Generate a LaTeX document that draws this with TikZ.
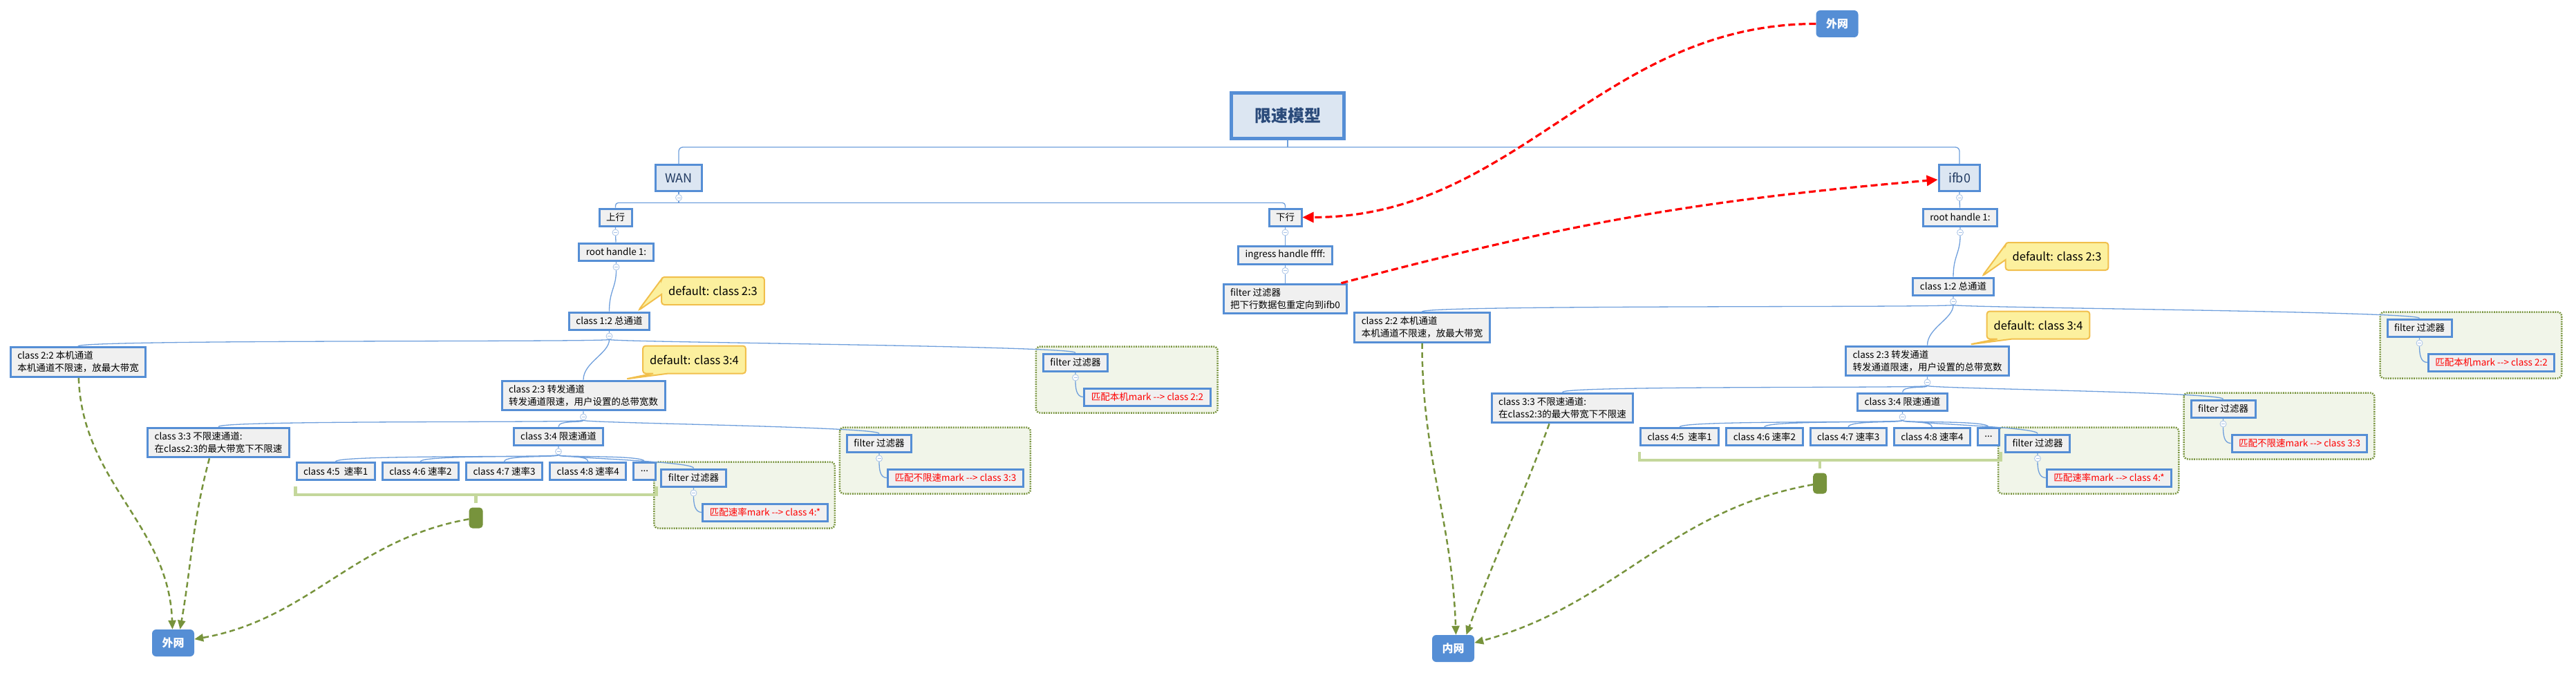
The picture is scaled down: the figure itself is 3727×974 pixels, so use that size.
\documentclass[tikz,border=0pt]{standalone}
\usepackage{fontspec}
\setmainfont{Noto Sans CJK SC}
\usetikzlibrary{arrows.meta, positioning, calc, shapes.callouts, backgrounds}

\definecolor{mapblue}{HTML}{558ED5}
\definecolor{linkblue}{HTML}{6F9FDC}
\definecolor{foldblue}{HTML}{A9C3E6}
\definecolor{boxgray}{HTML}{F0F0F0}
\definecolor{headfill}{HTML}{DCE6F2}
\definecolor{headtext}{HTML}{2A4A7A}
\definecolor{notefill}{HTML}{FCF09E}
\definecolor{notedraw}{HTML}{F1BF4C}
\definecolor{olive}{HTML}{77933C}
\definecolor{groupfill}{HTML}{F1F5E9}
\definecolor{sumgreen}{HTML}{C4D79B}

\tikzset{
  topic/.style={draw=mapblue, line width=3pt, fill=boxgray, align=left, inner xsep=10pt, inner ysep=6pt, minimum height=25pt, font=\fontsize{13.5}{18}\selectfont},
  hit/.style={topic, text=red},
  headbox/.style={draw=mapblue, line width=3pt, fill=headfill, text=headtext!80!black, inner xsep=14pt, minimum height=38pt, font=\fontsize{18}{20}\selectfont},
  modelbox/.style={draw=mapblue, line width=5pt, fill=headfill, text=headtext, minimum width=163pt, minimum height=66pt, font=\fontsize{24}{28}\selectfont\bfseries},
  netbox/.style={fill=mapblue, text=white, rounded corners=6pt, minimum width=61pt, minimum height=39pt, font=\fontsize{16}{18}\selectfont\bfseries},
  note/.style={rectangle callout, draw=notedraw, fill=notefill, line width=2pt, rounded corners=4pt, callout pointer width=22pt, minimum height=40pt, inner xsep=10pt, font=\fontsize{16.5}{19}\selectfont},
  fold/.style={circle, draw=foldblue, fill=white, line width=0.8pt, minimum size=9pt, inner sep=0pt,
    path picture={\draw[foldblue, line width=0.8pt] ([xshift=-2.5pt]path picture bounding box.center) -- ([xshift=2.5pt]path picture bounding box.center);}},
  link/.style={draw=linkblue, line width=1.3pt},
  fan/.style={out=-90, in=90, out distance=4pt, in distance=10pt},
  filterbox/.style={draw=olive, fill=groupfill, line width=2.5pt, dash pattern=on 1.8pt off 1.6pt, rounded corners=6pt},
  sumline/.style={draw=sumgreen, line width=4.5pt},
  sumpill/.style={fill=olive, rounded corners=5pt, minimum width=20pt, minimum height=30pt, inner sep=0pt},
  greenarrow/.style={draw=olive, line width=2.5pt, dash pattern=on 8pt off 5pt, -{Triangle[length=13pt, width=11pt]}},
  redarrow/.style={draw=red, line width=3.2pt, dash pattern=on 10pt off 5pt, -{Triangle[length=16pt, width=15pt]}},
}

\newcommand{\classtree}{%
  \node[topic] (c12) at (881.5,-464.5) {class 1:2 总通道};
  \node[fold] (f12) at ([yshift=-8pt]c12.south) {};
  \node[topic] (c22) at (113,-524) {class 2:2 本机通道\\本机通道不限速，放最大带宽};
  \node[topic] (c23) at (844,-572.5) {class 2:3 转发通道\\转发通道限速，用户设置的总带宽数};
  \node[fold] (f23) at ([yshift=-8pt]c23.south) {};
  \node[topic] (c33) at (316,-640.5) {class 3:3 不限速通道:\\在class2:3的最大带宽下不限速};
  \node[topic] (c34) at (808,-631.5) {class 3:4 限速通道};
  \node[fold] (f34) at ([yshift=-8pt]c34.south) {};
  \node[topic, anchor=west] (c45) at (427.5,-682) {class 4:5\ \ 速率1};
  \node[topic, anchor=west] (c46) at ([xshift=8pt]c45.east) {class 4:6 速率2};
  \node[topic, anchor=west] (c47) at ([xshift=8pt]c46.east) {class 4:7 速率3};
  \node[topic, anchor=west] (c48) at ([xshift=8pt]c47.east) {class 4:8 速率4};
  \node[topic, anchor=west] (more) at ([xshift=8pt]c48.east) {...};
  \node[note, callout absolute pointer={([xshift=42pt, yshift=1pt]c12.north)}] (n23) at (1031.5,-421) {default: class 2:3};
  \node[note, callout absolute pointer={([xshift=61pt, yshift=1pt]c23.north)}] (n34) at (1004.5,-520.5) {default: class 3:4};
  \node[topic] (g22f) at (1556,-524.5) {filter 过滤器};
  \node[fold] (g22o) at ([yshift=-8pt]g22f.south) {};
  \node[hit] (g22m) at (1660,-574.5) {匹配本机mark -{}-> class 2:2};
  \node[topic] (g33f) at (1272,-641.5) {filter 过滤器};
  \node[fold] (g33o) at ([yshift=-8pt]g33f.south) {};
  \node[hit] (g33m) at (1382.5,-691.5) {匹配不限速mark -{}-> class 3:3};
  \node[topic] (g4f) at (1003.5,-691.5) {filter 过滤器};
  \node[fold] (g4o) at ([yshift=-8pt]g4f.south) {};
  \node[hit] (g4m) at (1107,-741.5) {匹配速率mark -{}-> class 4:*};
  \node[sumpill] (sum) at ($(c45.south west)!.5!(more.south east)+(0,-53.5)$) {};
  \begin{scope}[on background layer]
    \draw[filterbox] ([shift={(-9pt,9pt)}]g22f.north west) rectangle ([shift={(9pt,-9pt)}]g22m.south east);
    \draw[filterbox] ([shift={(-9pt,9pt)}]g33f.north west) rectangle ([shift={(9pt,-9pt)}]g33m.south east);
    \draw[filterbox] ([shift={(-9pt,9pt)}]g4f.north west) rectangle ([shift={(9pt,-9pt)}]g4m.south east);
  \end{scope}
  \draw[sumline] ([yshift=-8pt]c45.south west) -- ++(0,-12) -| ([yshift=-8pt]more.south east);
  \draw[sumline] (sum.north) ++(0,6) -- ++(0,12);
  \draw[link] (c12) -- (f12) (f12) to[fan] (c22.north) (f12) to[fan, out distance=20pt, in distance=25pt] (c23.north) (f12) to[fan] (g22f.north);
  \draw[link] (c23) -- (f23) (f23) to[fan] (c33.north) (f23) to[fan] (c34.north) (f23) to[fan] (g33f.north);
  \draw[link] (c34) -- (f34) (f34) to[fan] (c45.north) (f34) to[fan] (c46.north) (f34) to[fan] (c47.north)
    (f34) to[fan] (c48.north) (f34) to[fan] (more.north) (f34) to[fan] (g4f.north);
  \draw[link] (g22f) -- (g22o) (g22o) to[out=-90, in=180] (g22m.west);
  \draw[link] (g33f) -- (g33o) (g33o) to[out=-90, in=180] (g33m.west);
  \draw[link] (g4f) -- (g4o) (g4o) to[out=-90, in=180] (g4m.west);
}

\begin{document}
\begin{tikzpicture}[x=1pt, y=1pt]
  \useasboundingbox (0,0) rectangle (3727,-974);
  \node[modelbox] (model) at (1863,-167.5) {限速模型};
  \node[headbox] (wan) at (982,-257.5) {WAN};
  \node[headbox] (ifb) at (2835,-257.5) {ifb0};
  \node[fold] (fWan) at ([yshift=-8pt]wan.south) {};
  \node[fold] (fIfb) at ([yshift=-8pt]ifb.south) {};
  \node[topic] (upstream) at (890.5,-314.5) {上行};
  \node[fold] (fUp) at ([yshift=-8pt]upstream.south) {};
  \node[topic] (rootL) at (891.5,-364.5) {root handle 1:};
  \node[fold] (fRootL) at ([yshift=-8pt]rootL.south) {};
  \node[topic] (downstream) at (1859.5,-314.5) {下行};
  \node[fold] (fDown) at ([yshift=-8pt]downstream.south) {};
  \node[topic, below=26pt of downstream] (ingress) {ingress handle ffff:};
  \node[fold] (fIngress) at ([yshift=-8pt]ingress.south) {};
  \node[topic, below=26pt of ingress] (redirect) {filter 过滤器\\把下行数据包重定向到ifb0};
  \node[topic] (rootR) at (2836,-314.5) {root handle 1:};
  \node[fold] (fRootR) at ([yshift=-8pt]rootR.south) {};
  \node[netbox] (netTop) at (2658,-34.5) {外网};
  \node[netbox] (netOut) at (250.5,-930.5) {外网};
  \node[netbox] (netIn) at (2102.5,-938.5) {内网};

  \begin{scope}[name prefix=L-]
    \classtree
  \end{scope}
  \begin{scope}[name prefix=R-, shift={(1944.5,50)}]
    \classtree
  \end{scope}

  \draw[link] (model) -- ([yshift=-10pt]model.south);
  \draw[link, rounded corners=6pt] (wan) |- ([yshift=-10pt]model.south) -| (ifb);
  \draw[link] (wan) -- (fWan) (fWan) -- ([yshift=-7.5pt]fWan.center);
  \draw[link, rounded corners=4pt] (upstream) |- ([yshift=-7.5pt]fWan.center) -| (downstream);
  \draw[link] (upstream) -- (fUp) (fUp) -- (rootL) (rootL) -- (fRootL);
  \draw[link] (fRootL) to[fan, out distance=25pt, in distance=30pt] (L-c12.north);
  \draw[link] (downstream) -- (fDown) (fDown) -- (ingress) (ingress) -- (fIngress) (fIngress) -- (redirect);
  \draw[link] (ifb) -- (fIfb) (fIfb) -- (rootR) (rootR) -- (fRootR);
  \draw[link] (fRootR) to[fan, out distance=25pt, in distance=30pt] (R-c12.north);

  \draw[redarrow] (netTop) to[out=180, in=0] (downstream);
  \draw[redarrow] ([xshift=-10pt]redirect.north east) to[bend left=5] (ifb);

  \draw[greenarrow] (L-c22) to[out=-88, in=92] ([xshift=-1pt]netOut.north);
  \draw[greenarrow] ([xshift=-13pt]L-c33.south) to[out=-105, in=80] ([xshift=10pt]netOut.north);
  \draw[greenarrow] (L-sum) to[out=190, in=10] (netOut);
  \draw[greenarrow] (R-c22) to[out=-90, in=92] ([xshift=4pt]netIn.north);
  \draw[greenarrow] ([xshift=-19pt]R-c33.south) to[out=-110, in=70] ([xshift=19pt]netIn.north);
  \draw[greenarrow] (R-sum) to[out=190, in=15] (netIn);
\end{tikzpicture}
\end{document}
